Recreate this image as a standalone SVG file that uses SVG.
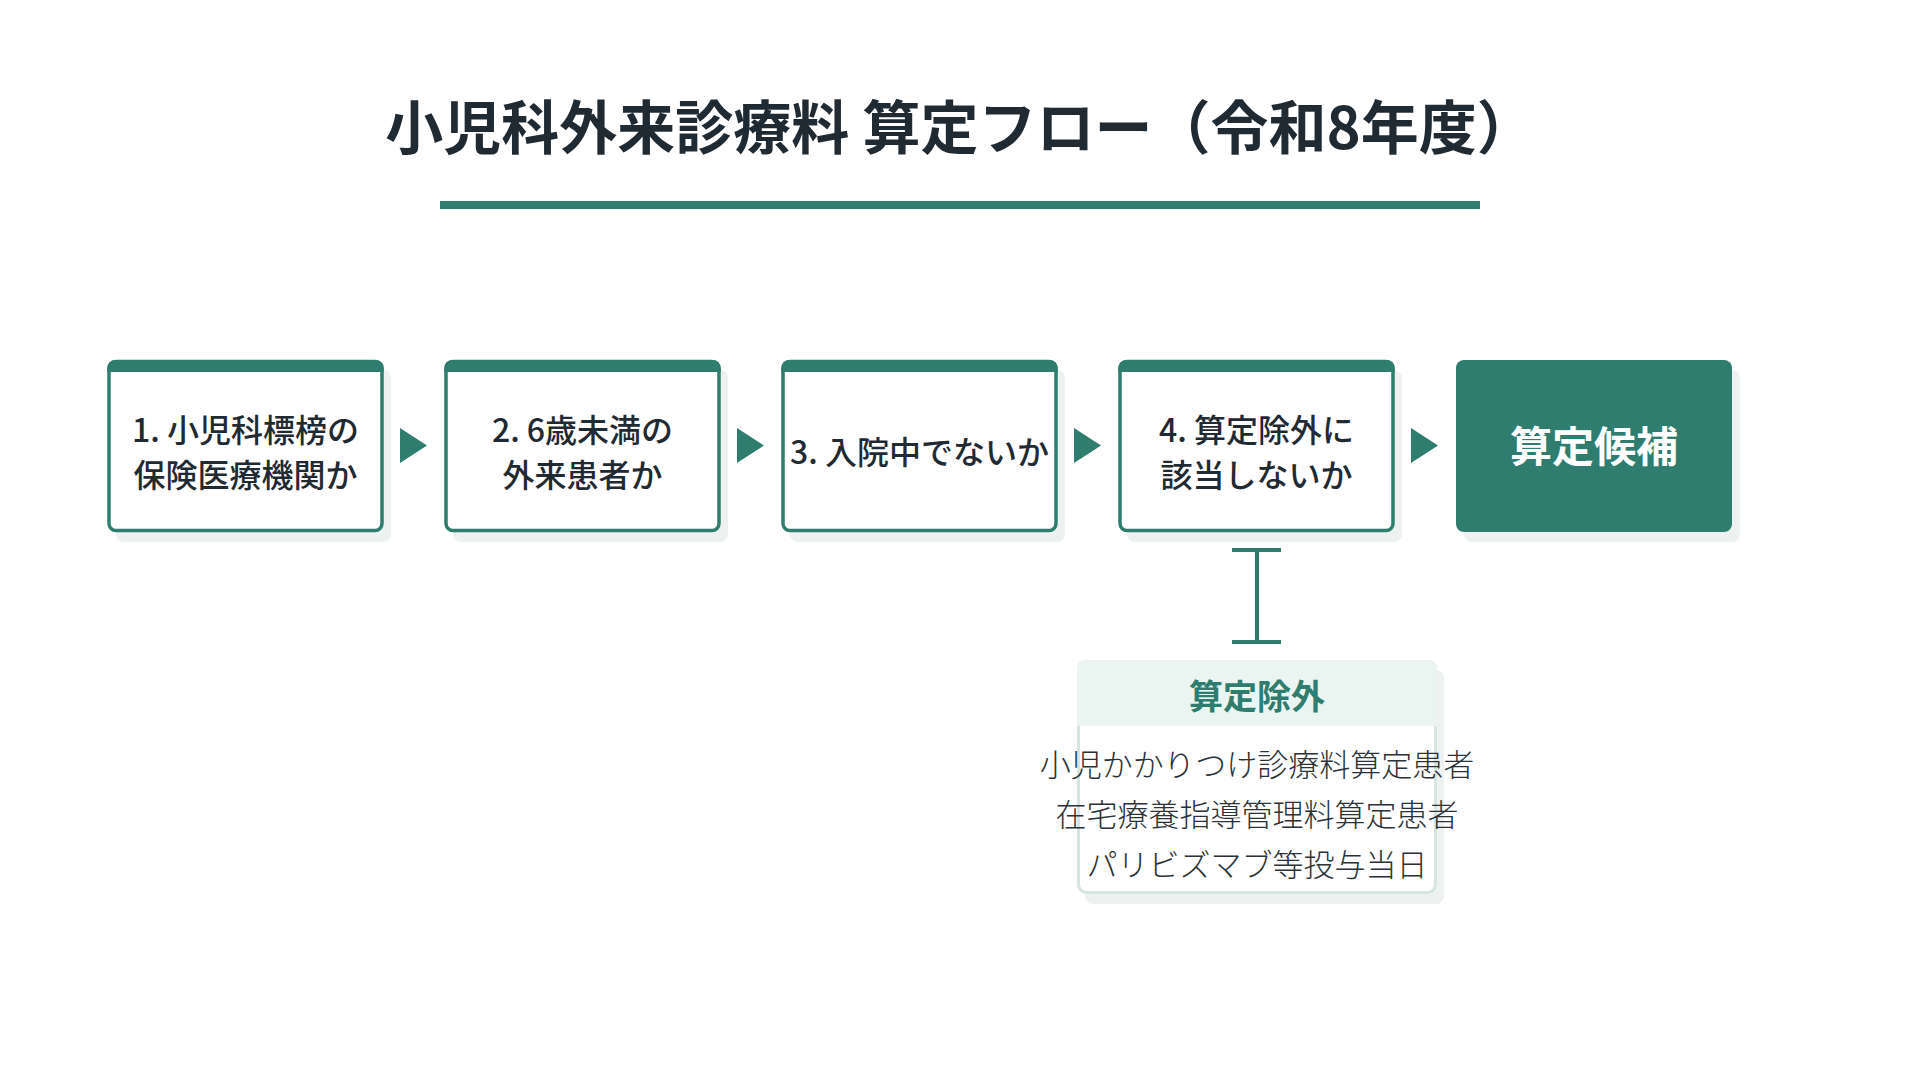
<svg xmlns="http://www.w3.org/2000/svg" width="1920" height="1080" viewBox="0 0 1920 1080">
<style>
text{font-family:"Noto Sans CJK JP","Noto Sans",sans-serif;}
.title{font-size:58px;font-weight:700;fill:#1F2A33;}
.step{font-size:32px;font-weight:500;fill:#1F2A33;}
.box{fill:#FFFFFF;stroke:#2E7D6E;stroke-width:3.5;}
.bar{fill:#2E7D6E;}
.shadow{fill:#EDF2F0;}
.goal{fill:#2E7D6E;}
.goaltxt{font-size:42px;font-weight:700;fill:#FFFFFF;}
.arrow{fill:#2E7D6E;}
.tee{stroke:#2E7D6E;stroke-width:4;fill:none;}
.exbox{fill:#FFFFFF;stroke:#D5E5DF;stroke-width:3;}
.exhead{fill:#EAF4F0;}
.exheadtxt{font-size:34px;font-weight:700;fill:#2E7D6E;}
.exitem{font-size:31px;font-weight:300;fill:#2A3238;}
</style>
<rect width="1920" height="1080" fill="#FFFFFF"/>
<g id="title">
<text class="title" x="960" y="149" text-anchor="middle">小児科外来診療料 算定フロー（令和8年度）</text>
<rect x="440" y="201" width="1040" height="8" fill="#2E7D6E"/>
</g>
<g id="step1">
<rect class="shadow" x="116" y="370" width="275" height="172" rx="8"/>
<rect class="box" x="109" y="361.5" width="273" height="169" rx="7"/>
<path class="bar" d="M107.3 372 V368 a8 8 0 0 1 8 -8 H375.7 a8 8 0 0 1 8 8 V372 Z"/>
<text class="step" x="245.5" y="441.5" text-anchor="middle">1. 小児科標榜の</text>
<text class="step" x="245.5" y="486.5" text-anchor="middle">保険医療機関か</text>
</g>
<g id="step2">
<rect class="shadow" x="453" y="370" width="275" height="172" rx="8"/>
<rect class="box" x="446" y="361.5" width="273" height="169" rx="7"/>
<path class="bar" d="M444.3 372 V368 a8 8 0 0 1 8 -8 H712.7 a8 8 0 0 1 8 8 V372 Z"/>
<text class="step" x="582.5" y="441.5" text-anchor="middle">2. 6歳未満の</text>
<text class="step" x="582.5" y="486.5" text-anchor="middle">外来患者か</text>
</g>
<g id="step3">
<rect class="shadow" x="790" y="370" width="275" height="172" rx="8"/>
<rect class="box" x="783" y="361.5" width="273" height="169" rx="7"/>
<path class="bar" d="M781.3 372 V368 a8 8 0 0 1 8 -8 H1049.7 a8 8 0 0 1 8 8 V372 Z"/>
<text class="step" x="919.5" y="464" text-anchor="middle">3. 入院中でないか</text>
</g>
<g id="step4">
<rect class="shadow" x="1127" y="370" width="275" height="172" rx="8"/>
<rect class="box" x="1120" y="361.5" width="273" height="169" rx="7"/>
<path class="bar" d="M1118.3 372 V368 a8 8 0 0 1 8 -8 H1386.7 a8 8 0 0 1 8 8 V372 Z"/>
<text class="step" x="1256.5" y="441.5" text-anchor="middle">4. 算定除外に</text>
<text class="step" x="1256.5" y="486.5" text-anchor="middle">該当しないか</text>
</g>
<g id="candidate">
<rect class="shadow" x="1464" y="370" width="276" height="172" rx="8"/>
<rect class="goal" x="1456" y="360" width="276" height="172" rx="8"/>
<text class="goaltxt" x="1594" y="462" text-anchor="middle">算定候補</text>
</g>
<g id="exclusion">
<rect class="shadow" x="1085" y="670" width="359" height="234" rx="8"/>
<rect class="exbox" x="1078.5" y="661.5" width="357" height="231" rx="8"/>
<path class="exhead" d="M1077 726 V668 a8 8 0 0 1 8 -8 H1429 a8 8 0 0 1 8 8 V726 Z"/>
<text class="exheadtxt" x="1257" y="709" text-anchor="middle">算定除外</text>
<text class="exitem" x="1257" y="776" text-anchor="middle">小児かかりつけ診療料算定患者</text>
<text class="exitem" x="1257" y="826" text-anchor="middle">在宅療養指導管理料算定患者</text>
<text class="exitem" x="1257" y="876" text-anchor="middle">パリビズマブ等投与当日</text>
</g>
<g id="connectors">
<polygon class="arrow" points="400,428 427,445.5 400,463"/>
<polygon class="arrow" points="737,428 764,445.5 737,463"/>
<polygon class="arrow" points="1074,428 1101,445.5 1074,463"/>
<polygon class="arrow" points="1411,428 1438,445.5 1411,463"/>
<line class="tee" x1="1257" y1="550" x2="1257" y2="642"/>
<line class="tee" x1="1232" y1="550" x2="1281" y2="550"/>
<line class="tee" x1="1232" y1="642" x2="1281" y2="642"/>
</g>
</svg>
